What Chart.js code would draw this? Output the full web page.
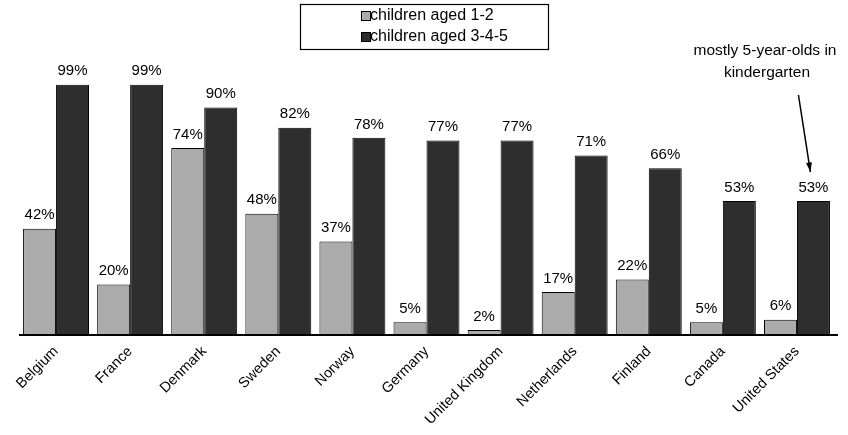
<!DOCTYPE html>
<html><head><meta charset="utf-8">
<script src="https://cdn.jsdelivr.net/npm/chart.js@4/dist/chart.umd.min.js"></script>
<style>html,body{margin:0;padding:0;background:#fff}#wrap{width:848px;height:435px}</style>
</head><body><div id="wrap"><canvas id="c"></canvas></div>
<script>
const categories = ["Belgium","France","Denmark","Sweden","Norway","Germany","United Kingdom","Netherlands","Finland","Canada","United States"];
const aged12 = [42,20,74,48,37,5,2,17,22,5,6];
const aged345 = [99,99,90,82,78,77,77,71,66,53,53];
const seriesNames = ["children aged 1-2","children aged 3-4-5"];
const noteLines = ["mostly 5-year-olds in","kindergarten"];

const FONT = "'Liberation Sans', Arial, sans-serif";
const lightCol = "#ababab", darkCol = "#2e2e2e";

const overlay = {
  id: 'overlay',
  afterDatasetsDraw(chart) {
    const ctx = chart.ctx;
    ctx.save();
    // value labels
    ctx.font = "15px " + FONT;
    ctx.fillStyle = "#000";
    ctx.textAlign = "center";
    ctx.textBaseline = "bottom";
    chart.data.datasets.forEach((ds, di) => {
      chart.getDatasetMeta(di).data.forEach((bar, i) => {
        ctx.fillText(ds.data[i] + "%", bar.x, bar.y - 6);
      });
    });
    // baseline
    const ca = chart.chartArea;
    const y0 = chart.scales.y.getPixelForValue(0);
    ctx.strokeStyle = "#000"; ctx.lineWidth = 2;
    ctx.beginPath(); ctx.moveTo(ca.left, y0); ctx.lineTo(ca.right + 4, y0); ctx.stroke();
    // legend
    const lx = 300, ly = 4, lw = 248, lh = 45;
    ctx.lineWidth = 1.2;
    ctx.strokeRect(lx + 0.5, ly + 0.5, lw, lh);
    ctx.font = "16px " + FONT;
    ctx.textAlign = "left"; ctx.textBaseline = "middle";
    const cols = [lightCol, darkCol];
    seriesNames.forEach((n, k) => {
      const yy = ly + 11 + k * 21;
      const sx = 361;
      ctx.fillStyle = cols[k];
      ctx.fillRect(sx, yy - 4, 9, 9);
      ctx.strokeStyle = "#000"; ctx.lineWidth = 1;
      ctx.strokeRect(sx + 0.5, yy - 3.5, 9, 9);
      ctx.fillStyle = "#000";
      ctx.fillText(n, sx + 9, yy + 1);
    });
    // annotation
    ctx.textAlign = "center"; ctx.textBaseline = "middle";
    ctx.font = "15.5px " + FONT;
    ctx.fillText(noteLines[0], 765, 51);
    ctx.fillText(noteLines[1], 767, 73);
    const last = chart.getDatasetMeta(1).data[categories.length - 1];
    const ex = last.x - 3, ey = last.y - 29;
    const sx0 = last.x - 15, sy0 = 95;
    ctx.strokeStyle = "#000"; ctx.lineWidth = 1.5;
    ctx.beginPath(); ctx.moveTo(sx0, sy0); ctx.lineTo(ex, ey); ctx.stroke();
    const ang = Math.atan2(ey - sy0, ex - sx0);
    ctx.beginPath();
    ctx.moveTo(ex, ey);
    ctx.lineTo(ex - 10 * Math.cos(ang - 0.3), ey - 10 * Math.sin(ang - 0.3));
    ctx.lineTo(ex - 10 * Math.cos(ang + 0.3), ey - 10 * Math.sin(ang + 0.3));
    ctx.closePath(); ctx.fill();
    ctx.restore();
  }
};

new Chart(document.getElementById('c'), {
  type: 'bar',
  data: {
    labels: categories,
    datasets: [
      { label: seriesNames[0], data: aged12, backgroundColor: lightCol, borderColor: "#000", borderWidth: 1 },
      { label: seriesNames[1], data: aged345, backgroundColor: darkCol, borderColor: "#000", borderWidth: 1 }
    ]
  },
  options: {
    responsive: true, maintainAspectRatio: false, animation: false,
    layout: { padding: { top: 57, left: 19, right: 14, bottom: 0 } },
    plugins: { legend: { display: false }, tooltip: { enabled: false } },
    scales: {
      x: {
        grid: { display: false, drawTicks: false },
        border: { display: false },
        ticks: { maxRotation: 45, minRotation: 45, color: "#000", font: { family: FONT, size: 14.5 }, padding: 8 },
        afterFit(s) { s.height = 100; }
      },
      y: { display: false, min: 0, max: 110 }
    },
    datasets: { bar: { categoryPercentage: 0.89, barPercentage: 1.0 } }
  },
  plugins: [overlay]
});
</script></body></html>
